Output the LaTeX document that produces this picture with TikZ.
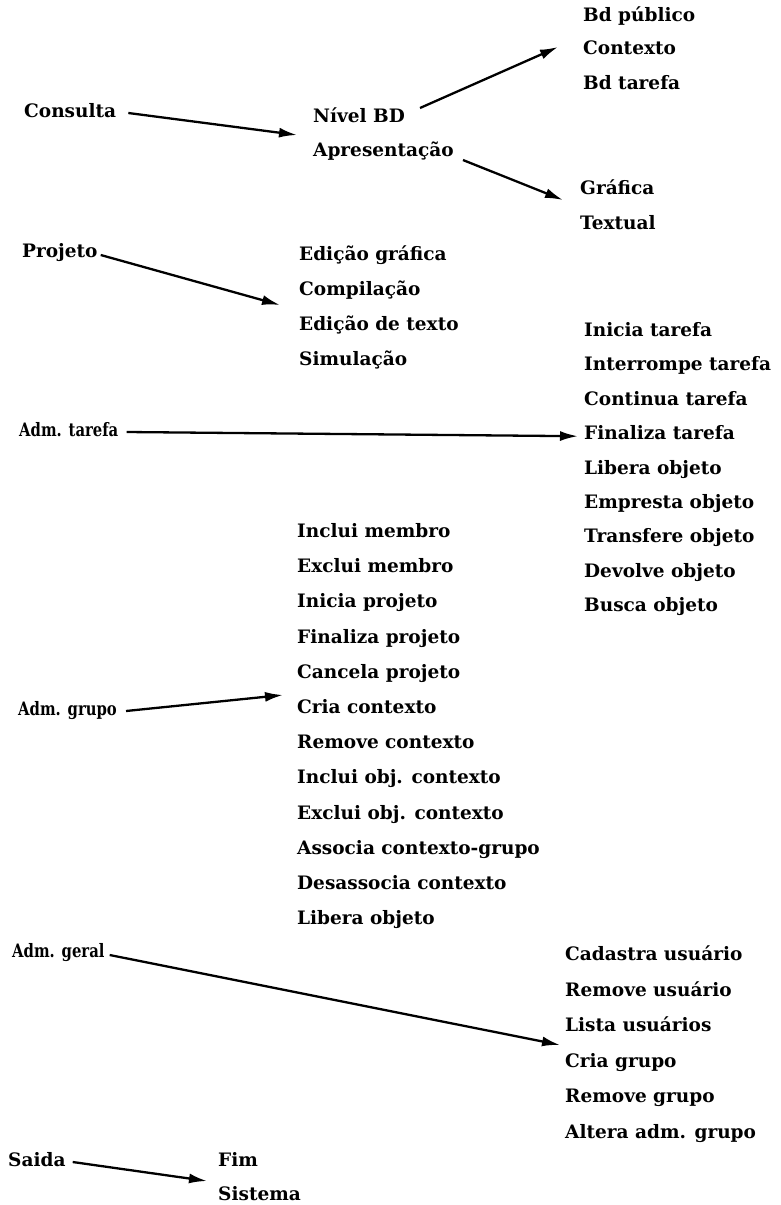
\documentclass[tikz,border=0pt]{standalone}
\usepackage{fontspec}
\usepackage{graphicx}
\setmainfont{DejaVu Serif}
\usetikzlibrary{arrows.meta}
\newcommand{\narrowtext}[1]{\scalebox{0.8}[1]{#1}}
\begin{document}
\begin{tikzpicture}[x=1pt,y=-1pt,
  lbl/.style={anchor=west,inner sep=0pt,text height=13pt,text depth=4pt,font=\fontsize{18.5}{22}\selectfont\bfseries},
  arr/.style={line width=2.3pt,-{Latex[length=18pt,width=10pt]}}]
\useasboundingbox (0,0) rectangle (780,1205);
% Consulta group
\node[lbl] (consulta) at (24,113) {Consulta};
\node[lbl] (nivel) at (313,118) {Nível BD};
\node[lbl] (apres) at (313,152) {Apresentação};
\node[lbl] (bdpub) at (583,17) {Bd público};
\node[lbl] (contexto) at (583,50) {Contexto};
\node[lbl] (bdtar) at (583,85) {Bd tarefa};
\node[lbl] (grafica) at (580,190) {Gráfica};
\node[lbl] (textual) at (580,225) {Textual};
% Projeto
\node[lbl] (projeto) at (22,253) {Projeto};
\node[lbl] (edgraf) at (299,256) {Edição gráfica};
\node[lbl] (compil) at (299,291) {Compilação};
\node[lbl] (edtext) at (299,326) {Edição de texto};
\node[lbl] (simul) at (299,361) {Simulação};
% Adm. tarefa
\node[lbl] (admtar) at (19,432) {\narrowtext{Adm. tarefa}};
\node[lbl] (t1) at (584,332) {Inicia tarefa};
\node[lbl] (t2) at (584,366.4) {Interrompe tarefa};
\node[lbl] (t3) at (584,400.8) {Continua tarefa};
\node[lbl] (t4) at (584,435.2) {Finaliza tarefa};
\node[lbl] (t5) at (584,469.6) {Libera objeto};
\node[lbl] (t6) at (584,504) {Empresta objeto};
\node[lbl] (t7) at (584,538.4) {Transfere objeto};
\node[lbl] (t8) at (584,572.8) {Devolve objeto};
\node[lbl] (t9) at (584,607.2) {Busca objeto};
% Adm. grupo
\node[lbl] (admgrupo) at (18,711) {\narrowtext{Adm. grupo}};
\node[lbl] (g1) at (297,533) {Inclui membro};
\node[lbl] (g2) at (297,568.2) {Exclui membro};
\node[lbl] (g3) at (297,603.4) {Inicia projeto};
\node[lbl] (g4) at (297,638.6) {Finaliza projeto};
\node[lbl] (g5) at (297,673.8) {Cancela projeto};
\node[lbl] (g6) at (297,709) {Cria contexto};
\node[lbl] (g7) at (297,744.2) {Remove contexto};
\node[lbl] (g8) at (297,779.4) {Inclui obj. contexto};
\node[lbl] (g9) at (297,814.6) {Exclui obj. contexto};
\node[lbl] (g10) at (297,849.8) {Associa contexto-grupo};
\node[lbl] (g11) at (297,885) {Desassocia contexto};
\node[lbl] (g12) at (297,920.2) {Libera objeto};
% Adm. geral
\node[lbl] (admgeral) at (12,953) {\narrowtext{Adm. geral}};
\node[lbl] (u1) at (565,956) {Cadastra usuário};
\node[lbl] (u2) at (565,991.5) {Remove usuário};
\node[lbl] (u3) at (565,1027) {Lista usuários};
\node[lbl] (u4) at (565,1062.5) {Cria grupo};
\node[lbl] (u5) at (565,1098) {Remove grupo};
\node[lbl] (u6) at (565,1133.5) {Altera adm. grupo};
% Saida
\node[lbl] (saida) at (8,1162) {Saida};
\node[lbl] (fim) at (218,1162) {Fim};
\node[lbl] (sistema) at (218,1196) {Sistema};
% arrows
\draw[arr] ([xshift=12pt]consulta.east) -- ([xshift=-16pt,yshift=-17pt]nivel.west);
\draw[arr] ([xshift=15pt,yshift=10pt]nivel.east) -- ([xshift=-25pt,yshift=3pt]contexto.west);
\draw[arr] ([xshift=9pt,yshift=-8pt]apres.east) -- ([xshift=-17pt,yshift=-10pt]grafica.west);
\draw[arr] ([xshift=3pt,yshift=-2pt]projeto.east) -- ([xshift=-19pt,yshift=-14pt]compil.west);
\draw[arr] ([xshift=8pt]admtar.east) -- ([xshift=-6pt,yshift=-1pt]t4.west);
\draw[arr] ([xshift=9pt]admgrupo.east) -- ([xshift=-14pt,yshift=14pt]g6.west);
\draw[arr] ([xshift=5pt,yshift=-2pt]admgeral.east) -- ([xshift=-5pt,yshift=-18pt]u3.west);
\draw[arr] ([xshift=7pt]saida.east) -- ([xshift=-11pt,yshift=-19pt]fim.west);
\end{tikzpicture}
\end{document}
